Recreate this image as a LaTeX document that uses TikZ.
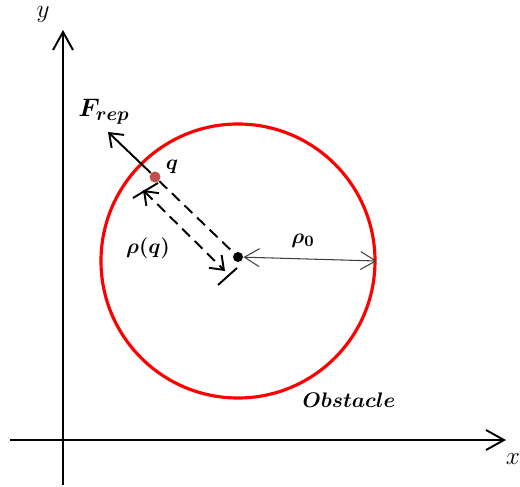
\documentclass[tikz,border=0pt]{standalone}
\usepackage{amsmath,amssymb,bm}
\usetikzlibrary{arrows.meta,calc}
\definecolor{qred}{RGB}{192,80,77}

\begin{document}
\begin{tikzpicture}[
  x=0.2mm, y=-0.2mm,
  % --- arrows ---
  axis/.style={-{Straight Barb[length=3.6mm, width=4mm, line width=1.1pt]}, line width=1.1pt},
  force/.style={-{Straight Barb[length=2.4mm, width=3.6mm, line width=1.1pt]}, line width=1.1pt},
  dimarr/.style={{Straight Barb[length=2.4mm, width=3.6mm, line width=1.1pt]}-{Straight Barb[length=2.4mm, width=3.6mm, line width=1.1pt]}, line width=1.1pt, dashed, dash pattern=on 2.2mm off 1.3mm},
  radarr/.style={{Straight Barb[length=3mm, width=3.6mm, line width=0.6pt]}-{Straight Barb[length=3mm, width=3.6mm, line width=0.6pt]}, line width=0.6pt, draw=black!75},
  ticked/.style={line width=1.1pt},
  % --- points ---
  dot/.style={circle, fill=black, inner sep=0pt, minimum size=2mm},
  qdot/.style={circle, fill=qred, inner sep=0pt, minimum size=2.2mm},
  % --- labels ---
  lbl/.style={inner sep=1pt, font=\fontsize{13}{15}\selectfont},
  axlbl/.style={inner sep=1pt, font=\fontsize{15}{17}\selectfont},
]
\useasboundingbox (0,0) rectangle (520,487);

% ===================== AXES =====================
\coordinate (xstart) at (10,440);
\coordinate (xend) at (506,440);
\coordinate (ystart) at (63,485);
\coordinate (yend) at (63,30);
\draw[axis] (xstart) -- (xend);
\draw[axis] (ystart) -- (yend);
\node[axlbl] (xlab) at (513,459) {$x$};
\node[axlbl] (ylab) at (43,15) {$y$};

% ===================== OBSTACLE =====================
\node[circle, draw=red, line width=1.8pt, inner sep=0pt, minimum size=54.8mm] (obst) at (238,261) {};
\node[dot] (ctr) at (238,257) {};
\node[qdot] (qpt) at (155,177) {};
\node[lbl, font=\fontsize{12.3}{14}\selectfont] (olab) at (349,400) {$\boldsymbol{Obstacle}$};

% ===================== REPULSIVE FORCE =====================
\coordinate (ftip) at (108,132);
\draw[force] (qpt) -- (ftip);
\node[lbl, font=\fontsize{15.5}{17}\selectfont] (flab) at (104,112) {$\boldsymbol{F_{rep}}$};
\node[lbl] (qlab) at (172,167) {$\boldsymbol{q}$};

% ===================== DISTANCE rho(q) =====================
\draw[ticked, dashed, dash pattern=on 2.2mm off 1.3mm] (qpt) -- (ctr);
\coordinate (dA) at (143,190);
\coordinate (dB) at (225,271);
\draw[dimarr] (dA) -- (dB);
\coordinate (tA1) at (158,183);
\coordinate (tA2) at (133,198);
\coordinate (tB1) at (237,268);
\coordinate (tB2) at (218,285);
\draw[ticked] (tA1) -- (tA2);
\draw[ticked] (tB1) -- (tB2);
\node[lbl] (rlab) at (148,248) {$\boldsymbol{\rho(q)}$};

% ===================== RADIUS rho_0 =====================
\draw[radarr] (ctr) -- (obst.east);
\node[lbl] (r0lab) at (303,241) {$\boldsymbol{\rho_0}$};

\end{tikzpicture}
\end{document}
